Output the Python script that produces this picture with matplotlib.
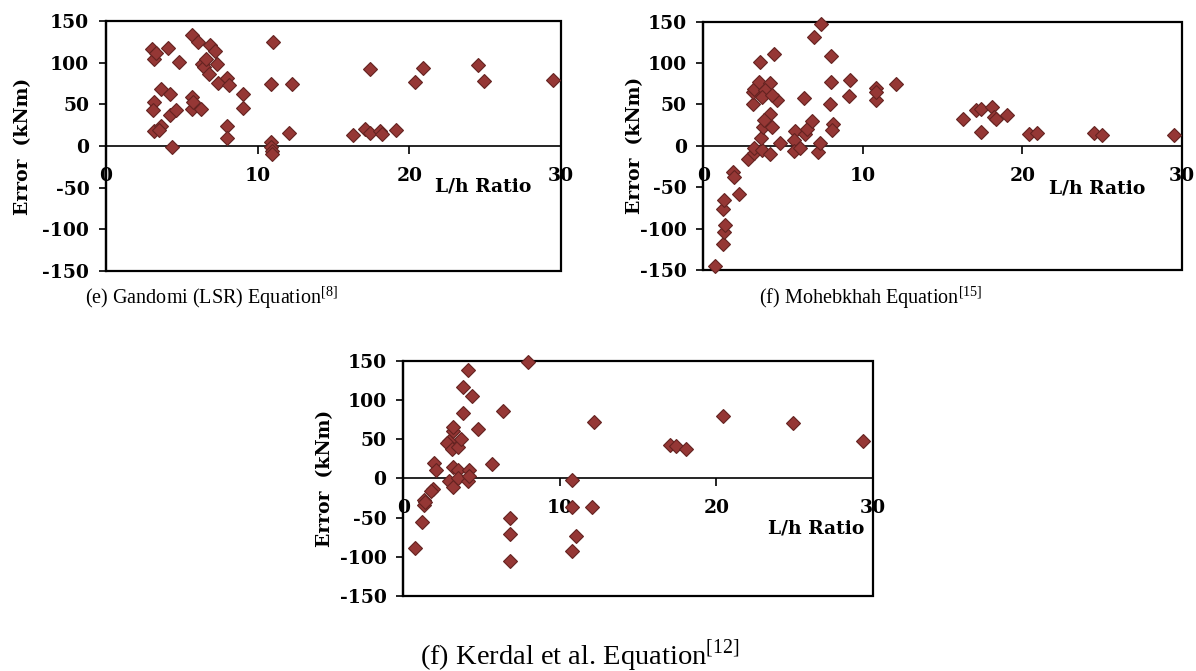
import matplotlib
matplotlib.use("Agg")
import matplotlib.pyplot as plt
from matplotlib.patches import Rectangle

plt.rcParams['mathtext.fontset'] = 'custom'
plt.rcParams['mathtext.rm'] = 'Liberation Serif'

# ---------------- data ----------------
# (e) Gandomi (LSR)
gandomi_lh = [3.05, 3.16, 3.3, 4.1, 4.8, 5.7, 6.1, 6.86, 7.2, 6.3, 6.45, 6.8, 7.3, 6.6,
              7.4, 8.0, 8.1, 9.05, 9.05, 8.0, 7.95, 3.16, 3.12, 3.6, 4.2, 4.2, 4.65,
              3.2, 3.6, 3.5, 4.35, 5.7, 5.7, 5.75, 6.25, 11.03, 10.9, 12.3, 12.1,
              10.9, 10.9, 10.95, 10.95, 17.4, 20.9, 20.4, 24.5, 24.9, 29.5, 16.3,
              17.1, 17.4, 18.06, 18.2, 19.1]
gandomi_err = [116, 104, 112, 118, 101, 133, 125, 121, 114, 98, 95, 87, 99, 104,
               76, 82, 73, 63, 46, 24, 10, 53, 43, 68, 62, 37, 43,
               18, 24, 19, -1, 59, 45, 53, 45, 125, 75, 74, 16,
               5, -1, -6, -10, 92, 94, 77, 97, 78, 79, 13,
               20, 16, 18, 14, 19]

# (f) Mohebkhah
moheb_lh = [0.73, 1.25, 1.3, 1.35, 1.25, 1.3, 1.85, 1.95, 2.26, 2.8, 3.2, 3.2, 3.7,
            4.2, 4.8, 3.6, 3.76, 4.2, 4.3, 3.8, 3.13, 3.1, 3.15, 3.5, 4.2, 3.85,
            3.7, 4.6, 4.3, 3.55, 4.43, 6.3, 5.75, 5.7, 5.7, 6.06, 6.4, 6.5, 6.8,
            6.96, 7.38, 7.2, 7.3, 8.0, 8.0, 7.95, 8.15, 8.05, 9.2, 9.15, 10.8,
            10.8, 10.8, 12.1, 16.26, 17.1, 17.4, 18.1, 18.2, 18.35, 19.06, 17.4,
            20.4, 20.9, 24.5, 25.0, 29.5]
moheb_err = [-145, -118, -104, -96, -76, -66, -32, -38, -58, -16, -9, -2, -5,
             -10, 4, 10, 23, 39, 23, 31, 51, 65, 69, 77, 76, 68,
             59, 55, 62, 101, 111, 58, 18, 7, -6, -2, 14, 20, 30,
             131, 147, -8, 3, 108, 77, 51, 26, 19, 79, 60, 70,
             55, 65, 75, 32, 43, 45, 47, 35, 33, 37, 17,
             14, 16, 16, 13, 13]

# (f) Kerdal et al.
kerdal_lh = [0.75, 1.2, 1.3, 1.35, 1.4, 1.9, 1.8, 1.95, 2.1, 2.9, 2.8, 3.16, 3.16,
             3.1, 3.47, 3.7, 3.16, 3.47, 2.9, 3.16, 3.47, 3.83, 3.8, 4.15, 4.4,
             4.8, 4.2, 4.15, 4.2, 5.7, 6.4, 7.95, 6.8, 6.8, 6.8, 10.8, 10.8, 11.03,
             10.8, 12.04, 12.2, 17.04, 17.4, 18.06, 20.4, 24.9, 29.4]
kerdal_err = [-89, -56, -28, -34, -30, -13, -16, 20, 11, 47, 45, 60, 66,
              38, 40, 50, 15, 11, -4, -11, 0, 83, 117, 138, 105,
              63, 11, -4, 3, 18, 86, 148, -51, -71, -106, -2, -37, -73,
              -93, -37, 72, 43, 41, 37, 79, 71, 48]

x_ticks = [0, 10, 20, 30]
y_ticks = [-150, -100, -50, 0, 50, 100, 150]

# ---------------- style ----------------
FILL = '#953735'
EDGE = '#642321'
TICK_FONT = dict(family='DejaVu Serif', weight='bold', size=13.5)
CAP_FONT = 'Liberation Serif'

fig = plt.figure(figsize=(11.96, 6.71), dpi=100)

panels = [
    ([0.0886, 0.5961, 0.3804, 0.3726], gandomi_lh, gandomi_err, -0.163, (24.9, -49)),
    ([0.5881, 0.5976, 0.4000, 0.3700], moheb_lh, moheb_err, -0.124, (24.7, -52)),
    ([0.3372, 0.1118, 0.3925, 0.3507], kerdal_lh, kerdal_err, -0.148, (26.4, -64)),
]

for rect, xs, ys, ylab_x, lab_pos in panels:
    ax = fig.add_axes(rect)
    ax.plot(xs, ys, ls='none', marker='D', ms=7.5, mfc=FILL, mec=EDGE, mew=0.8,
            zorder=3, clip_on=False)
    for s in ['top', 'right']:
        ax.spines[s].set_visible(False)
    ax.spines['bottom'].set_position(('data', 0))
    ax.spines['bottom'].set_linewidth(1.2)
    ax.spines['left'].set_linewidth(1.6)
    ax.set_xlim(0, 30)
    ax.set_ylim(-150, 150)
    ax.set_xticks(x_ticks)
    ax.set_yticks(y_ticks)
    ax.set_xticklabels([str(t) for t in x_ticks], fontdict=TICK_FONT)
    ax.set_yticklabels([str(t) for t in y_ticks], fontdict=TICK_FONT)
    ax.add_patch(Rectangle((0, 0), 1, 1, transform=ax.transAxes, fill=False,
                           lw=1.6, ec='black', clip_on=False, zorder=2))
    ax.tick_params(axis='x', direction='out', length=6, width=1.2, pad=9)
    ax.tick_params(axis='y', direction='out', length=5, width=1.2, pad=7)
    ax.set_ylabel('Error  (kNm)', fontdict=TICK_FONT)
    ax.yaxis.set_label_coords(ylab_x, 0.5)
    ax.text(lab_pos[0], lab_pos[1], 'L/h Ratio', ha='center', va='center', **TICK_FONT)

fig.text(0.177, 0.556, r'(e) Gandomi (LSR) Equation$^{\mathrm{[8]}}$',
         ha='center', va='center', family=CAP_FONT, size=14.5)
fig.text(0.728, 0.556, r'(f) Mohebkhah Equation$^{\mathrm{[15]}}$',
         ha='center', va='center', family=CAP_FONT, size=14.5)
fig.text(0.485, 0.024, r'(f) Kerdal et al. Equation$^{\mathrm{[12]}}$',
         ha='center', va='center', family=CAP_FONT, size=20.5)

fig.savefig('out.png', dpi=100)
